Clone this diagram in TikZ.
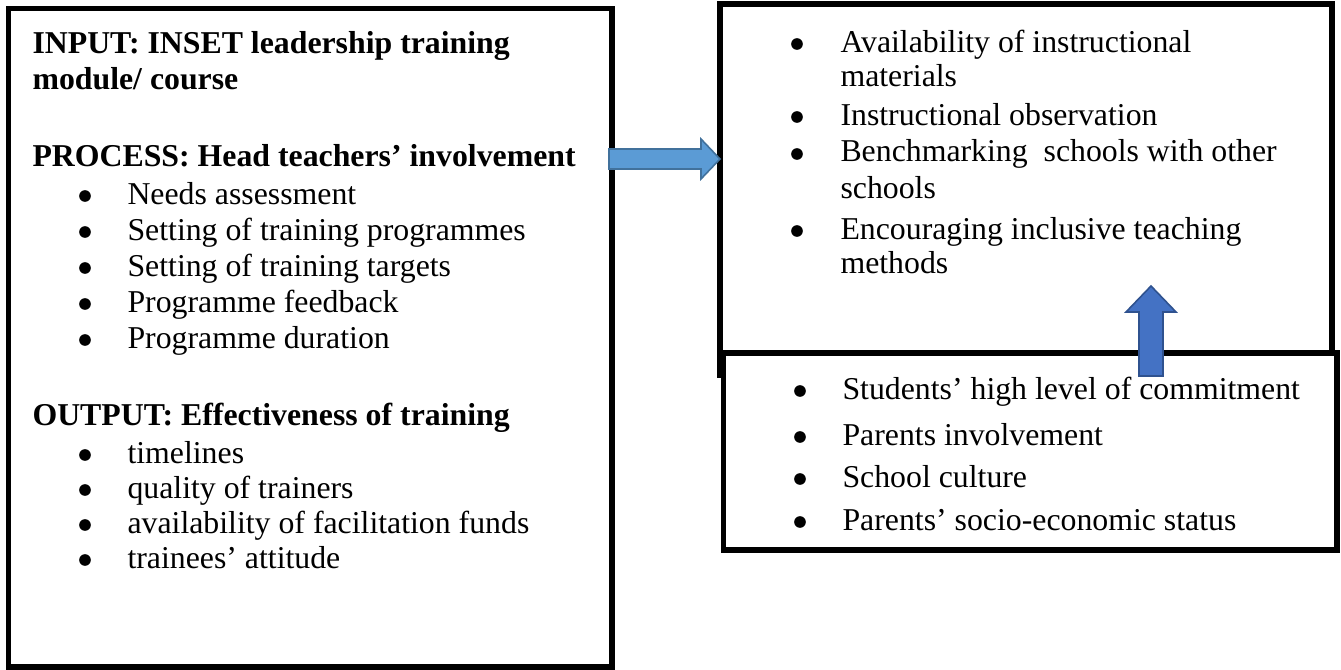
\documentclass[tikz,border=0pt]{standalone}
\usepackage{fontspec}
\setmainfont{Liberation Serif}
\usepackage{tikz}
\usetikzlibrary{positioning,calc}
\definecolor{arrowlight}{RGB}{91,155,213}
\definecolor{arrowlightedge}{RGB}{65,113,156}
\definecolor{arrowdark}{RGB}{68,114,196}
\definecolor{arrowdarkedge}{RGB}{47,82,143}
\tikzset{
  framebox/.style={draw=black, fill=white, line width=2pt, inner sep=0pt},
  headline/.style={anchor=base west, inner sep=0pt, font=\fontsize{12}{14}\selectfont\bfseries},
  itemline/.style={anchor=base west, inner sep=0pt, font=\fontsize{12}{14}\selectfont},
  bulletdot/.style={circle, fill=black, inner sep=0pt, minimum size=4.4pt},
  blockright/.style={fill=arrowlight, draw=arrowlightedge, line width=0.6pt, line join=miter},
  blockup/.style={fill=arrowdark, draw=arrowdarkedge, line width=0.6pt, line join=miter}
}

\begin{document}
\begin{tikzpicture}[x=0.3774pt, y=-0.3774pt]
  \useasboundingbox (0,0) rectangle (1341,670);

  % Frames
  \node[framebox, minimum width=227.8pt, minimum height=248.5pt] (lbox) at (310.25,337.75) {};
  \node[framebox, minimum width=231pt, minimum height=140pt] (tbox) at (1026,189.5) {};
  \node[framebox, minimum width=231.5pt, minimum height=74.4pt] (bbox) at (1030.25,451.5) {};

  % Left box: input
  \node[headline] (inp1) at (32,54) {INPUT: INSET leadership training};
  \node[headline] (inp2) at (32,89) {module/ course};

  % Left box: process
  \node[headline] (proc) at (32,167) {PROCESS: Head teachers’ involvement};
  \foreach \y/\txt [count=\i] in {204/Needs assessment, 240/Setting of training programmes,
      276/Setting of training targets, 312/Programme feedback, 348/Programme duration}{
    \node[bulletdot] (procb\i) at (85,\y-8) {};
    \node[itemline] (proc\i) at (127,\y) {\txt};
  }

  % Left box: output
  \node[headline] (outp) at (32,425) {OUTPUT: Effectiveness of training};
  \foreach \y/\txt [count=\i] in {463/timelines, 498/quality of trainers,
      533/availability of facilitation funds, 568/trainees’ attitude}{
    \node[bulletdot] (outb\i) at (85,\y-8) {};
    \node[itemline] (outp\i) at (127,\y) {\txt};
  }

  % Top right box
  \foreach \y [count=\i] in {52,125,162,239}
    \node[bulletdot] (topb\i) at (797,\y-8) {};
  \foreach \y/\txt [count=\i] in {52/Availability of instructional, 86/materials,
      125/Instructional observation, 162/Benchmarking\ \ schools with other,
      198/schools, 239/Encouraging inclusive teaching, 273/methods}
    \node[itemline] (top\i) at (840,\y) {\txt};

  % Bottom right box
  \foreach \y/\txt [count=\i] in {399/Students’ high level of commitment,
      445/Parents involvement, 487/School culture,
      530/Parents’ socio-economic status}{
    \node[bulletdot] (botb\i) at (800,\y-8) {};
    \node[itemline] (bot\i) at (842,\y) {\txt};
  }

  % Block arrows
  \coordinate (rs) at (609,159);
  \coordinate (rt) at (720,159);
  \draw[blockright] ($(rs)+(0,-10)$) -- ($(rt)+(-19,-10)$) -- ($(rt)+(-19,-20)$)
    -- (rt) -- ($(rt)+(-19,20)$) -- ($(rt)+(-19,10)$) -- ($(rs)+(0,10)$) -- cycle;

  \coordinate (ub) at (1151,376);
  \coordinate (ut) at (1151,286);
  \draw[blockup] ($(ub)+(-12,0)$) -- ($(ut)+(-12,26)$) -- ($(ut)+(-25,26)$)
    -- (ut) -- ($(ut)+(25,26)$) -- ($(ut)+(12,26)$) -- ($(ub)+(12,0)$) -- cycle;
\end{tikzpicture}
\end{document}
